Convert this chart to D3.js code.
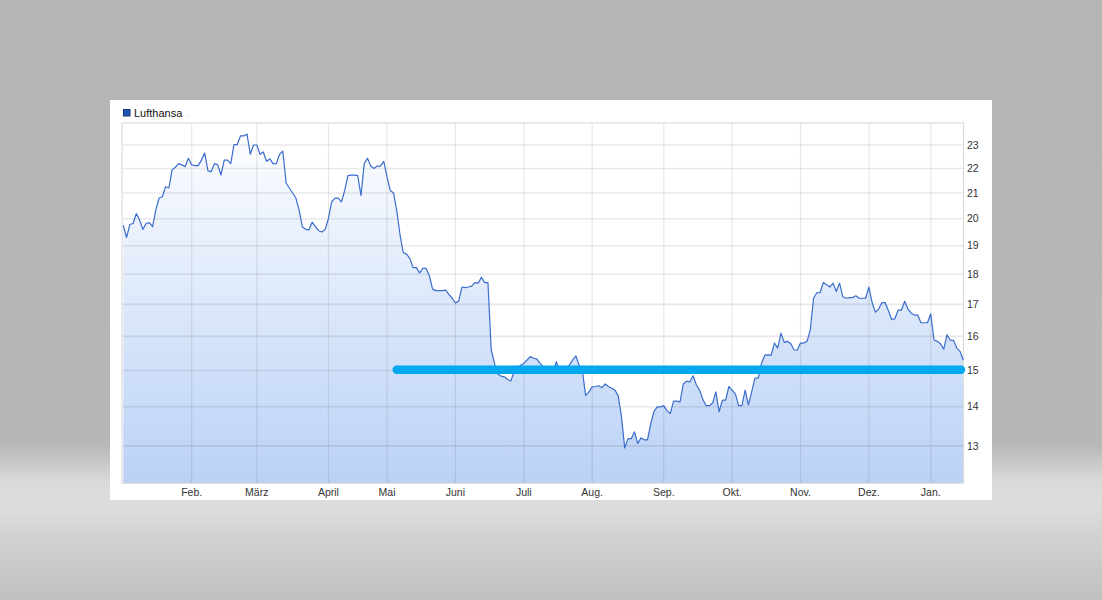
<!DOCTYPE html>
<html>
<head>
<meta charset="utf-8">
<script src="https://cdn.jsdelivr.net/npm/d3@7"></script>
<style>
html,body{margin:0;padding:0;overflow:hidden;background:#b5b6b5;}
svg{display:block;}
text{font-family:"Liberation Sans",Arial,Helvetica,sans-serif;}
</style>
</head>
<body>
<svg id="chart" width="1102" height="600"></svg>
<script>
// ---------------- data ----------------
const seriesName = "Lufthansa";

// daily closing prices (trading-day index 0 .. 258)
const prices = [
19.75,19.3,19.78,19.82,20.2,19.95,19.6,19.82,19.85,19.7,
20.35,20.8,20.85,21.25,21.2,21.95,22.05,22.2,22.15,22.07,
22.43,22.15,22.12,22.12,22.35,22.65,21.9,21.87,22.2,22.15,
21.73,22.35,22.35,22.2,23.02,23.02,23.4,23.4,23.48,22.6,
23.0,23.0,22.6,22.7,22.3,22.4,22.2,22.2,22.6,22.73,
21.4,21.2,21.0,20.8,20.33,19.7,19.6,19.58,19.87,19.7,
19.55,19.5,19.6,20.0,20.65,20.8,20.8,20.65,21.1,21.7,
21.72,21.72,21.7,20.9,22.2,22.43,22.1,22.0,22.1,22.1,
22.3,21.65,21.1,21.0,20.3,19.4,18.75,18.7,18.55,18.23,
18.23,18.05,18.2,18.2,17.95,17.5,17.45,17.45,17.45,17.47,
17.33,17.2,17.05,17.1,17.57,17.55,17.57,17.6,17.72,17.7,
17.9,17.72,17.72,15.6,15.2,14.9,14.84,14.82,14.75,14.7,
14.95,15.05,15.15,15.2,15.3,15.4,15.35,15.33,15.2,15.1,
15.05,15.05,14.92,15.25,15.0,14.92,15.1,15.15,15.3,15.42,
15.15,15.0,14.3,14.4,14.54,14.55,14.57,14.52,14.62,14.55,
14.5,14.45,14.3,13.75,12.95,13.18,13.18,13.35,13.06,13.2,
13.15,13.15,13.56,13.88,14.0,14.0,14.03,13.9,13.82,14.15,
14.15,14.13,14.62,14.7,14.68,14.85,14.6,14.45,14.2,14.03,
14.03,14.1,14.4,13.87,14.18,14.18,14.55,14.45,14.35,14.03,
14.03,14.45,14.05,14.4,14.78,14.78,15.2,15.44,15.45,15.44,
15.8,15.65,16.1,15.82,15.85,15.78,15.6,15.59,15.8,15.8,
15.85,16.2,17.2,17.38,17.38,17.72,17.65,17.57,17.7,17.42,
17.7,17.25,17.2,17.22,17.22,17.28,17.2,17.2,17.2,17.57,
17.06,16.75,16.85,17.06,17.06,16.8,16.52,16.55,16.82,16.82,
17.1,16.85,16.72,16.66,16.66,16.42,16.42,16.42,16.7,15.89,
15.85,15.78,15.62,16.05,15.89,15.88,15.65,15.55,15.3
];

// month axis labels and the trading-day index where each month starts
const monthLabels   = ["Feb.","März","April","Mai","Juni","Juli","Aug.","Sep.","Okt.","Nov.","Dez.","Jan."];
const monthStartIdx = [21, 41, 63, 81, 102, 123, 144, 166, 187, 208, 229, 248];

// price axis ticks (log scale)
const yTicks = [13,14,15,16,17,18,19,20,21,22,23];
const yDomain = [12.11, 23.98];

// horizontal support level annotation
const supportLevel = 15.02;
const supportStartIdx = 84;
const supportEndIdx = 257.3;

// ---------------- drawing ----------------
const W = 1102, H = 600;
const panel = {x:110, y:100, w:882, h:400};
const plot  = {left:122, right:963.5, top:123, bottom:483.3};

const svg = d3.select("#chart");
const defs = svg.append("defs");

// background gradient
const bg = defs.append("linearGradient").attr("id","bgGrad").attr("x1",0).attr("y1",0).attr("x2",0).attr("y2",1);
[[0,"#b4b5b4"],[0.74,"#b6b7b6"],[0.765,"#c4c5c4"],[0.80,"#d8d8d8"],[0.84,"#dedede"],[0.89,"#d3d3d3"],[1,"#bfc0bf"]]
  .forEach(([o,c])=>bg.append("stop").attr("offset",o).attr("stop-color",c));
svg.append("rect").attr("width",W).attr("height",H).attr("fill","url(#bgGrad)");

// white panel
svg.append("rect").attr("x",panel.x).attr("y",panel.y).attr("width",panel.w).attr("height",panel.h).attr("fill","#ffffff");

// scales
const x = d3.scaleLinear().domain([0, prices.length-1]).range([123.3, 963.3]);
const y = d3.scaleLog().domain(yDomain).range([plot.bottom, plot.top]);

// area gradient
const ag = defs.append("linearGradient").attr("id","areaGrad")
  .attr("gradientUnits","userSpaceOnUse").attr("x1",0).attr("y1",plot.top).attr("x2",0).attr("y2",plot.bottom);
ag.append("stop").attr("offset",0).attr("stop-color","#ffffff");
ag.append("stop").attr("offset",1).attr("stop-color","#bad1f6");

const area = d3.area().x((d,i)=>x(i)).y0(plot.bottom).y1(d=>y(d));
svg.append("path").datum(prices).attr("d",area).attr("fill","url(#areaGrad)");

// grid
const grid = svg.append("g").attr("stroke","#000");
grid.selectAll("line.h").data(yTicks).join("line").attr("class","h")
  .attr("stroke-opacity",0.085).attr("stroke-width",1.6)
  .attr("x1",plot.left).attr("x2",plot.right).attr("y1",d=>y(d)).attr("y2",d=>y(d));
grid.selectAll("line.v").data(monthStartIdx).join("line").attr("class","v")
  .attr("stroke-opacity",0.09).attr("stroke-width",1.2)
  .attr("x1",d=>x(d)).attr("x2",d=>x(d)).attr("y1",plot.top).attr("y2",plot.bottom);

// plot frame
svg.append("rect").attr("x",plot.left).attr("y",plot.top)
  .attr("width",plot.right-plot.left).attr("height",plot.bottom-plot.top)
  .attr("fill","none").attr("stroke","#dcdcdc").attr("stroke-width",1.2);

// price line
const line = d3.line().x((d,i)=>x(i)).y(d=>y(d));
svg.append("path").datum(prices).attr("d",line)
  .attr("fill","none").attr("stroke","#3b6dcc").attr("stroke-width",1.2).attr("stroke-linejoin","round");

// support band
svg.append("line")
  .attr("x1",x(supportStartIdx)).attr("x2",x(supportEndIdx))
  .attr("y1",y(supportLevel)).attr("y2",y(supportLevel))
  .attr("stroke","#00a9ef").attr("stroke-width",8.5).attr("stroke-linecap","round");

// y axis labels (right)
svg.append("g").selectAll("text").data(yTicks).join("text")
  .attr("x",967).attr("y",d=>y(d)).attr("dy","0.35em")
  .attr("font-size","10.5px").attr("fill","#333").text(d=>d);

// x axis labels
svg.append("g").selectAll("text").data(monthLabels).join("text")
  .attr("x",(d,i)=>x(monthStartIdx[i])).attr("y",495.5).attr("text-anchor","middle")
  .attr("font-size","10.5px").attr("fill","#333").text(d=>d);

// legend
svg.append("rect").attr("x",123.5).attr("y",109.5).attr("width",6.5).attr("height",6.5)
  .attr("fill","#1f56b4").attr("stroke","#14356e").attr("stroke-width",1);
svg.append("text").attr("x",134).attr("y",117).attr("font-size","11px").attr("fill","#111").text(seriesName);
svg.append("text").attr("x",188).attr("y",117).attr("font-size","8px").attr("fill","#aaa").text(".");
</script>
</body>
</html>
